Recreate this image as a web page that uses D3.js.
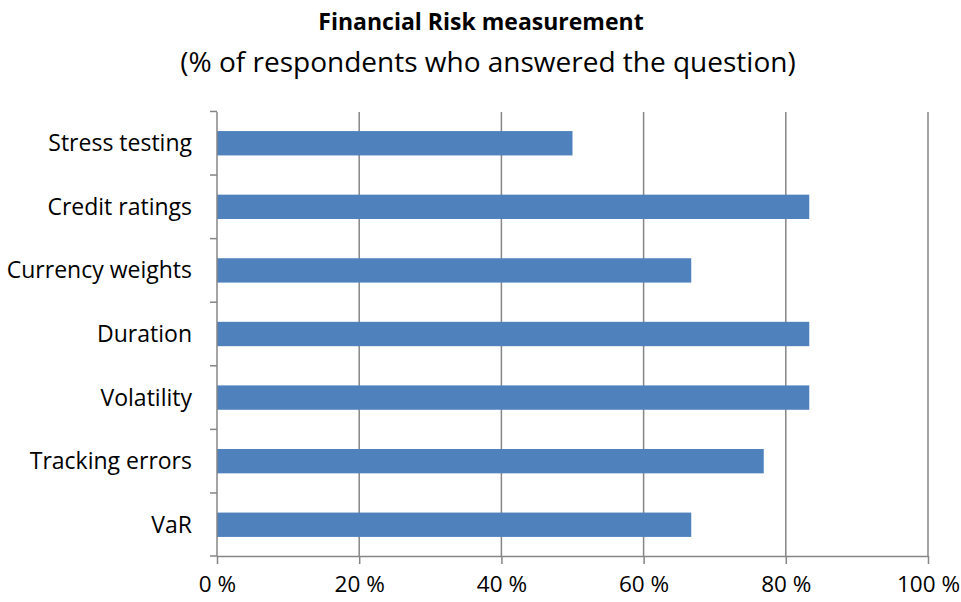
<!DOCTYPE html>
<html><head><meta charset="utf-8">
<script src="https://cdn.jsdelivr.net/npm/d3@7"></script>
<style>body{margin:0;background:#fff}svg text{font-family:"Open Sans",sans-serif;fill:#000;font-variant-ligatures:none}</style>
</head><body>
<svg id="c" width="961" height="602"></svg>
<script>
const categories = ["Stress testing","Credit ratings","Currency weights","Duration","Volatility","Tracking errors","VaR"];
const values = [50.0, 83.3, 66.7, 83.3, 83.3, 76.9, 66.7];
const xTicks = [0,20,40,60,80,100];
const title = "Financial Risk measurement";
const subtitle = "(% of respondents who answered the question)";

const svg = d3.select("#c");
const L = 217, R = 928, T = 112, B = 556;
const x = d3.scaleLinear().domain([0,100]).range([L,R]);
const y = d3.scaleBand().domain(categories).range([T,B]).paddingInner(0.617).paddingOuter(0.3);
const grey = "#868686";

svg.append("g").selectAll("line").data(xTicks.slice(1)).join("line")
  .attr("x1",d=>x(d)).attr("x2",d=>x(d)).attr("y1",T).attr("y2",B)
  .attr("stroke",grey).attr("stroke-width",1.5);

svg.append("g").selectAll("rect").data(categories).join("rect")
  .attr("x",x(0)).attr("y",d=>y(d)).attr("height",y.bandwidth())
  .attr("width",(d,i)=>x(values[i])-x(0)).attr("fill","#4F81BD");

const xa = svg.append("g").attr("transform",`translate(0,${B})`)
  .call(d3.axisBottom(x).tickValues(xTicks).tickSize(8).tickSizeOuter(0).tickFormat(d=>d+" %"));
xa.attr("font-size",null).attr("font-family",null);
xa.select(".domain").attr("stroke",grey).attr("stroke-width",1.5);
xa.selectAll(".tick line").attr("stroke",grey).attr("stroke-width",1.5);
xa.selectAll(".tick text").attr("y",28).attr("dy","0.35em")
  .style("font-size","22.5px").style("font-family","'Open Sans',sans-serif");

const bounds = categories.map(c=>y(c)-y.step()*y.paddingInner()/2).concat([B]);
svg.append("line").attr("x1",L).attr("x2",L).attr("y1",T).attr("y2",B).attr("stroke",grey).attr("stroke-width",1.5);
svg.append("g").selectAll("line").data(bounds).join("line")
  .attr("x1",L-7).attr("x2",L).attr("y1",d=>d).attr("y2",d=>d).attr("stroke",grey).attr("stroke-width",1.5);
svg.append("g").selectAll("text").data(categories).join("text")
  .attr("x",192).attr("y",d=>y(d)+y.bandwidth()/2).attr("dy","0.35em")
  .attr("text-anchor","end").attr("font-size",23).text(d=>d);

svg.append("text").attr("x",481).attr("y",30).attr("text-anchor","middle")
  .attr("font-size",23).attr("font-weight","bold").text(title);
svg.append("text").attr("x",488).attr("y",72).attr("text-anchor","middle")
  .attr("font-size",28).text(subtitle);
</script>
</body></html>
